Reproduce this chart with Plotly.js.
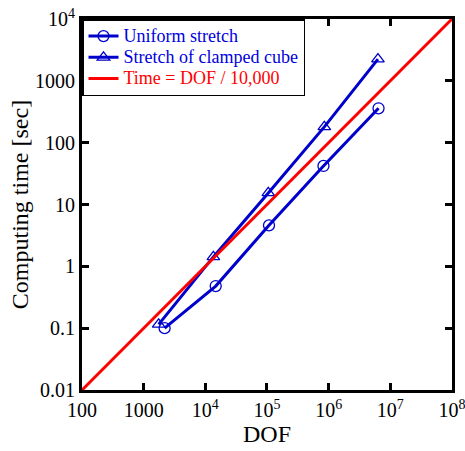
<!DOCTYPE html>
<html>
<head>
<meta charset="utf-8">
<script src="https://cdn.plot.ly/plotly-3.0.1.min.js"></script>
<style>html,body{margin:0;padding:0;background:#fff;}#chart{width:465px;height:451px;}</style>
</head>
<body>
<div id="chart"></div>
<script>
// Data
const uniformDOF = [2187, 14739, 107811, 823875, 6440067];
const uniformTime = [0.1, 0.48, 4.6, 42, 360];
const clampedDOF = [1750, 13500, 105000, 850000, 6300000];
const clampedTime = [0.115, 1.42, 15.4, 180, 2250];
const refDOF = [100, 1e8];
const refTime = refDOF.map(d => d / 10000);

const seriesNames = ['Uniform stretch', 'Stretch of clamped cube', 'Time = DOF / 10,000'];

const xTickVals = [100, 1000, 1e4, 1e5, 1e6, 1e7, 1e8];
const xTickText = ['100', '1000', '10<sup>4</sup>', '10<sup>5</sup>', '10<sup>6</sup>', '10<sup>7</sup>', '10<sup>8</sup>'];
const yTickVals = [0.01, 0.1, 1, 10, 100, 1000, 1e4];
const yTickText = ['0.01', '0.1', '1', '10', '100', '1000', '10<sup>4</sup>'];

const blue = '#0000cc';
const red = '#ff0000';
const serif = "'Liberation Serif', 'Times New Roman', Times, serif";
const legendName = (t, c) => '<span style="color:' + c + ';font-size:18px">' + t + '</span>';

const traces = [
  {
    x: uniformDOF, y: uniformTime, type: 'scatter', mode: 'lines+markers',
    name: legendName(seriesNames[0], '#0000dd'),
    line: {color: blue, width: 3},
    marker: {symbol: 'circle-open', size: 11, color: blue, line: {width: 1.3, color: blue}}
  },
  {
    x: clampedDOF, y: clampedTime, type: 'scatter', mode: 'lines+markers',
    name: legendName(seriesNames[1], '#0000dd'),
    line: {color: blue, width: 3},
    marker: {symbol: 'triangle-up-open', size: 11, color: blue, line: {width: 1.3, color: blue}}
  },
  {
    x: refDOF, y: refTime, type: 'scatter', mode: 'lines',
    name: legendName(seriesNames[2], '#ff0000'),
    line: {color: red, width: 3}
  }
];

const axisCommon = {
  type: 'log',
  showgrid: false,
  zeroline: false,
  showline: true,
  linecolor: '#000',
  linewidth: 3,
  mirror: 'ticks',
  ticks: 'inside',
  ticklen: 7,
  tickwidth: 3,
  tickcolor: '#000',
  ticklabeloverflow: 'allow',
  tickfont: {family: serif, size: 20, color: '#000'}
};

const layout = {
  width: 465, height: 451,
  margin: {l: 82, r: 13, t: 19, b: 61},
  paper_bgcolor: '#fff', plot_bgcolor: '#fff',
  font: {family: serif, color: '#000'},
  showlegend: true,
  legend: {
    x: 0, y: 1, xanchor: 'left', yanchor: 'top',
    bgcolor: '#fff', bordercolor: '#000', borderwidth: 1.5,
    font: {family: serif, size: 14},
    tracegroupgap: 0, itemwidth: 30
  },
  xaxis: Object.assign({}, axisCommon, {
    range: [2, 8.0002],
    tickvals: xTickVals, ticktext: xTickText,
    title: {text: 'DOF', font: {size: 24, family: serif}, standoff: 4}
  }),
  yaxis: Object.assign({}, axisCommon, {
    range: [-2, 4.0002],
    tickvals: yTickVals, ticktext: yTickText,
    title: {text: 'Computing time [sec]', font: {size: 24, family: serif}, standoff: 0}
  })
};

Plotly.newPlot('chart', traces, layout, {displayModeBar: false, staticPlot: true});
</script>
</body>
</html>
